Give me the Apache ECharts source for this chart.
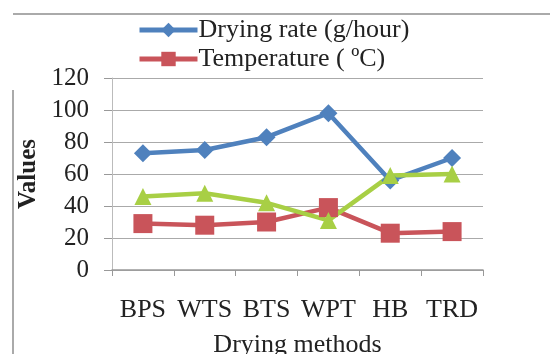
<!DOCTYPE html>
<html><head><meta charset="utf-8">
<script src="https://cdn.jsdelivr.net/npm/echarts@6/dist/echarts.min.js"></script>
<style>html,body{margin:0;padding:0;background:#fff}#c{width:550px;height:354px}</style>
</head><body><div id="c"></div>
<script>
const categories = ['BPS','WTS','BTS','WPT','HB','TRD'];
const dryingRate = [73, 75, 83, 98, 56, 70];
const temperature = [29, 28, 30, 39, 23, 24];
const thirdSeries = [46, 48, 42, 31, 59, 60];
const yTicks = [0, 20, 40, 60, 80, 100, 120];

const font = '"Liberation Serif", "Times New Roman", serif';
const chart = echarts.init(document.getElementById('c'));
chart.setOption({
  animation: false,
  textStyle: {fontFamily: font},
  graphic: [
    {type: 'line', shape: {x1: 13, y1: 14, x2: 550, y2: 14}, style: {stroke: '#aaa', lineWidth: 2}},
    {type: 'line', shape: {x1: 13, y1: 90, x2: 13, y2: 354}, style: {stroke: '#aaa', lineWidth: 2}}
  ],
  legend: {
    data: ['Drying rate (g/hour)', 'Temperature ( \u00baC)'],
    orient: 'vertical', left: 137, top: 17, itemGap: 3, padding: 0,
    itemWidth: 58, itemHeight: 18,
    lineStyle: {width: 5},
    textStyle: {fontFamily: font, fontSize: 26, color: '#222', padding: [0,0,0,-4]}
  },
  grid: {left: 112, right: 67, top: 78, bottom: 84, outerBoundsMode: 'none', containLabel: false},
  xAxis: {
    type: 'category', data: categories, boundaryGap: true,
    name: 'Drying methods', nameLocation: 'middle', nameGap: 62,
    nameTextStyle: {fontFamily: font, fontSize: 26, color: '#222'},
    axisLine: {lineStyle: {color: '#999', width: 1.5}},
    axisTick: {show: true, length: 6, lineStyle: {color: '#999'}},
    axisLabel: {fontFamily: font, fontSize: 26, color: '#222', margin: 27, interval: 0, hideOverlap: false},
  },
  yAxis: {
    type: 'value', min: 0, max: 120, interval: 20,
    name: 'Values', nameLocation: 'middle', nameGap: 62,
    nameTextStyle: {fontFamily: font, fontSize: 25, fontWeight: 'bold', color: '#222'},
    axisLine: {show: true, lineStyle: {color: '#bbb'}},
    axisTick: {show: true, length: 8, inside: false, lineStyle: {color: '#999'}},
    axisLabel: {fontFamily: font, fontSize: 25, color: '#222', margin: 23,
      formatter: v => yTicks.includes(v) ? String(v) : ''},
    splitLine: {lineStyle: {color: '#aaa', width: 1.2}}
  },
  series: [
    {name: 'Drying rate (g/hour)', type: 'line', data: dryingRate,
     symbol: 'diamond', symbolSize: 18, color: '#4f81bd',
     lineStyle: {width: 4.5, color: '#4f81bd'}, itemStyle: {color: '#4f81bd'}},
    {name: 'Temperature ( \u00baC)', type: 'line', data: temperature,
     symbol: 'rect', symbolSize: 19, color: '#c9545a',
     lineStyle: {width: 4.5, color: '#c9545a'}, itemStyle: {color: '#c9545a'}},
    {name: 'Series 3', type: 'line', data: thirdSeries,
     symbol: 'triangle', symbolSize: 17, color: '#a8cf45',
     lineStyle: {width: 4.5, color: '#a8cf45'}, itemStyle: {color: '#a8cf45'}}
  ]
});
</script></body></html>
